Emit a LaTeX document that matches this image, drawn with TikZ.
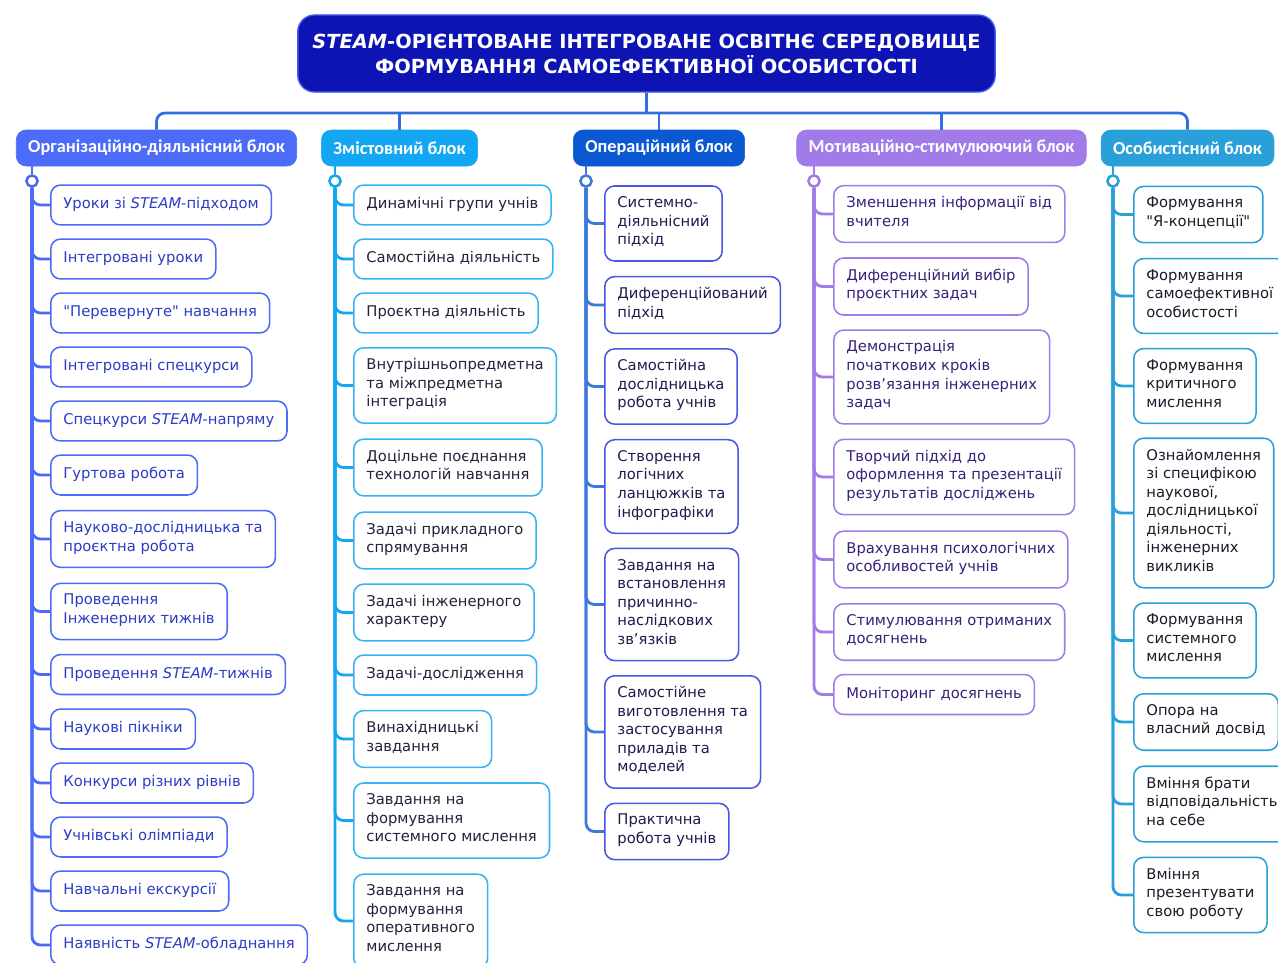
\documentclass[tikz,border=0pt]{standalone}
\usepackage{fontspec}
\setmainfont{DejaVu Sans}
\newfontfamily\hdfont{Carlito}
\usetikzlibrary{positioning}
\definecolor{titleFill}{HTML}{0E14B4}
\definecolor{titleLine}{HTML}{3F5BEF}
\definecolor{busBlue}{HTML}{2F6FDF}
\definecolor{orgBlue}{HTML}{4C6BF8}
\definecolor{orgText}{HTML}{2C3DC4}
\definecolor{zmBlue}{HTML}{13A6F2}
\definecolor{zmText}{HTML}{23233A}
\definecolor{opBlue}{HTML}{0A58D2}
\definecolor{opLine}{HTML}{4B55E6}
\definecolor{opText}{HTML}{1C1D4E}
\definecolor{motViolet}{HTML}{A07BE9}
\definecolor{motText}{HTML}{3A2079}
\definecolor{osCyan}{HTML}{2AA0DA}
\definecolor{osText}{HTML}{1B1C2A}

\begin{document}
\begin{tikzpicture}[x=0.025cm, y=-0.025cm,
        item/.style={draw=#1, line width=1.1pt, rounded corners=7pt, fill=white,
            anchor=west, align=left, inner xsep=9pt, inner ysep=7.6pt,
            font=\fontsize{10.5}{13.2}\selectfont,
            execute at begin node=\strut, execute at end node=\strut},
        org/.style={item=orgBlue, text=orgText},
        zm/.style={item=zmBlue!85, text=zmText},
        op/.style={item=opLine, text=opText},
        mot/.style={item=motViolet, text=motText},
        os/.style={item=osCyan, text=osText},
        head/.style={fill=#1, draw=#1, rounded corners=7pt, text=white,
            minimum height=0.9cm, inner xsep=8.5pt,
            font=\hdfont\bfseries\fontsize{13}{14}\selectfont},
        ring/.style={circle, draw=#1, fill=white, line width=1.8pt,
            minimum size=0.28cm, inner sep=0pt},
        br/.style={draw=#1, line width=2pt, rounded corners=6pt},
        bus/.style={draw=busBlue, line width=2pt}]
    \useasboundingbox (0,0) rectangle (1278,962);

    \node[fill=titleFill, draw=titleLine, line width=1pt, rounded corners=12pt,
        minimum width=17.43cm, minimum height=1.925cm, text=white, align=center,
        font=\bfseries\fontsize{13.8}{17.8}\selectfont] (title) at (646.5,53.5)
        {\textit{STEAM}-ОРІЄНТОВАНЕ ІНТЕГРОВАНЕ ОСВІТНЄ СЕРЕДОВИЩЕ\\
         ФОРМУВАННЯ САМОЕФЕКТИВНОЇ ОСОБИСТОСТІ};

    \node[head=orgBlue] (ho) at (156.5,148) {Організаційно-діяльнісний блок};
    \node[head=zmBlue] (hz) at (399.5,148) {Змістовний блок};
    \node[head=opBlue] (hp) at (659,148) {Операційний блок};
    \node[head=motViolet] (hm) at (941.5,148) {Мотиваційно-стимулюючий блок};
    \node[head=osCyan] (hs) at (1187.5,148) {Особистісний блок};

    \coordinate (bus) at (646,113);
    \draw[bus] (title.south) -- (title.south |- bus);
    \draw[bus, rounded corners=6pt] (ho) |- (bus) -| (hs);
    \draw[bus] (hz) -- (hz |- bus);
    \draw[bus] (hp) -- (hp |- bus);
    \draw[bus] (hm) -- (hm |- bus);

    % organizational block
    \node[org] (o1) at (50,205) {Уроки зі \textit{STEAM}-підходом};
    \node[org] (o2) at (50,259) {Інтегровані уроки};
    \node[org] (o3) at (50,313) {\textquotedbl Перевернуте\textquotedbl\ навчання};
    \node[org] (o4) at (50,367) {Інтегровані спецкурси};
    \node[org] (o5) at (50,421) {Спецкурси \textit{STEAM}-напряму};
    \node[org] (o6) at (50,475) {Гуртова робота};
    \node[org] (o7) at (50,539) {Науково-дослідницька та\\проєктна робота};
    \node[org] (o8) at (50,611.5) {Проведення\\Інженерних тижнів};
    \node[org] (o9) at (50,674.5) {Проведення \textit{STEAM}-тижнів};
    \node[org] (o10) at (50,729) {Наукові пікніки};
    \node[org] (o11) at (50,783) {Конкурси різних рівнів};
    \node[org] (o12) at (50,837) {Учнівські олімпіади};
    \node[org] (o13) at (50,891) {Навчальні екскурсії};
    \node[org] (o14) at (50,945) {Наявність \textit{STEAM}-обладнання};

    % content block
    \node[zm] (z1) at (353,205) {Динамічні групи учнів};
    \node[zm] (z2) at (353,259) {Самостійна діяльність};
    \node[zm] (z3) at (353,313) {Проєктна діяльність};
    \node[zm] (z4) at (353,385.5) {Внутрішньопредметна\\та міжпредметна\\інтеграція};
    \node[zm] (z5) at (353,467.5) {Доцільне поєднання\\технологій навчання};
    \node[zm] (z6) at (353,540.5) {Задачі прикладного\\спрямування};
    \node[zm] (z7) at (353,612.5) {Задачі інженерного\\характеру};
    \node[zm] (z8) at (353,675) {Задачі-дослідження};
    \node[zm] (z9) at (353,739) {Винахідницькі\\завдання};
    \node[zm] (z10) at (353,820.5) {Завдання на\\формування\\системного мислення};
    \node[zm] (z11) at (353,921) {Завдання на\\формування\\оперативного\\мислення};

    % operational block
    \node[op] (p1) at (604,223.5) {Системно-\\діяльнісний\\підхід};
    \node[op] (p2) at (604,305) {Диференційований\\підхід};
    \node[op] (p3) at (604,386.5) {Самостійна\\дослідницька\\робота учнів};
    \node[op] (p4) at (604,486.5) {Створення\\логічних\\ланцюжків та\\інфографіки};
    \node[op] (p5) at (604,604.5) {Завдання на\\встановлення\\причинно-\\наслідкових\\зв'язків};
    \node[op] (p6) at (604,732) {Самостійне\\виготовлення та\\застосування\\приладів та\\моделей};
    \node[op] (p7) at (604,831.5) {Практична\\робота учнів};

    % motivational block
    \node[mot] (m1) at (833,214) {Зменшення інформації від\\вчителя};
    \node[mot] (m2) at (833,286.5) {Диференційний вибір\\проєктних задач};
    \node[mot] (m3) at (833,377) {Демонстрація\\початкових кроків\\розв'язання інженерних\\задач};
    \node[mot] (m4) at (833,477) {Творчий підхід до\\оформлення та презентації\\результатів досліджень};
    \node[mot] (m5) at (833,559.5) {Врахування психологічних\\особливостей учнів};
    \node[mot] (m6) at (833,632) {Стимулювання отриманих\\досягнень};
    \node[mot] (m7) at (833,694.5) {Моніторинг досягнень};

    % personal block
    \node[os] (s1) at (1133,214.5) {Формування\\\textquotedbl Я-концепції\textquotedbl};
    \node[os] (s2) at (1133,296) {Формування\\самоефективної\\особистості};
    \node[os] (s3) at (1133,386) {Формування\\критичного\\мислення};
    \node[os] (s4) at (1133,513) {Ознайомлення\\зі специфікою\\наукової,\\дослідницької\\діяльності,\\інженерних\\викликів};
    \node[os] (s5) at (1133,640.5) {Формування\\системного\\мислення};
    \node[os] (s6) at (1133,722) {Опора на\\власний досвід};
    \node[os] (s7) at (1133,804) {Вміння брати\\відповідальність\\на себе};
    \node[os] (s8) at (1133,895) {Вміння\\презентувати\\свою роботу};

    \node[ring=orgBlue] (ro) at (32,181) {};
    \node[ring=zmBlue] (rz) at (335,181) {};
    \node[ring=opBlue!80] (rp) at (586,181) {};
    \node[ring=motViolet] (rm) at (814,181) {};
    \node[ring=osCyan] (rs) at (1113,181) {};
    \draw[br=orgBlue] (ho.south -| ro) -- (ro);
    \draw[br=zmBlue] (hz.south -| rz) -- (rz);
    \draw[br=opBlue!80] (hp.south -| rp) -- (rp);
    \draw[br=motViolet] (hm.south -| rm) -- (rm);
    \draw[br=osCyan] (hs.south -| rs) -- (rs);

    \draw[br=orgBlue] (ro) |- (o1);
    \draw[br=orgBlue] (ro) |- (o2);
    \draw[br=orgBlue] (ro) |- (o3);
    \draw[br=orgBlue] (ro) |- (o4);
    \draw[br=orgBlue] (ro) |- (o5);
    \draw[br=orgBlue] (ro) |- (o6);
    \draw[br=orgBlue] (ro) |- (o7);
    \draw[br=orgBlue] (ro) |- (o8);
    \draw[br=orgBlue] (ro) |- (o9);
    \draw[br=orgBlue] (ro) |- (o10);
    \draw[br=orgBlue] (ro) |- (o11);
    \draw[br=orgBlue] (ro) |- (o12);
    \draw[br=orgBlue] (ro) |- (o13);
    \draw[br=orgBlue] (ro) |- (o14);

    \draw[br=zmBlue] (rz) |- (z1);
    \draw[br=zmBlue] (rz) |- (z2);
    \draw[br=zmBlue] (rz) |- (z3);
    \draw[br=zmBlue] (rz) |- (z4);
    \draw[br=zmBlue] (rz) |- (z5);
    \draw[br=zmBlue] (rz) |- (z6);
    \draw[br=zmBlue] (rz) |- (z7);
    \draw[br=zmBlue] (rz) |- (z8);
    \draw[br=zmBlue] (rz) |- (z9);
    \draw[br=zmBlue] (rz) |- (z10);
    \draw[br=zmBlue] (rz) |- (z11);

    \draw[br=opBlue!80] (rp) |- (p1);
    \draw[br=opBlue!80] (rp) |- (p2);
    \draw[br=opBlue!80] (rp) |- (p3);
    \draw[br=opBlue!80] (rp) |- (p4);
    \draw[br=opBlue!80] (rp) |- (p5);
    \draw[br=opBlue!80] (rp) |- (p6);
    \draw[br=opBlue!80] (rp) |- (p7);

    \draw[br=motViolet] (rm) |- (m1);
    \draw[br=motViolet] (rm) |- (m2);
    \draw[br=motViolet] (rm) |- (m3);
    \draw[br=motViolet] (rm) |- (m4);
    \draw[br=motViolet] (rm) |- (m5);
    \draw[br=motViolet] (rm) |- (m6);
    \draw[br=motViolet] (rm) |- (m7);

    \draw[br=osCyan] (rs) |- (s1);
    \draw[br=osCyan] (rs) |- (s2);
    \draw[br=osCyan] (rs) |- (s3);
    \draw[br=osCyan] (rs) |- (s4);
    \draw[br=osCyan] (rs) |- (s5);
    \draw[br=osCyan] (rs) |- (s6);
    \draw[br=osCyan] (rs) |- (s7);
    \draw[br=osCyan] (rs) |- (s8);
\end{tikzpicture}
\end{document}
